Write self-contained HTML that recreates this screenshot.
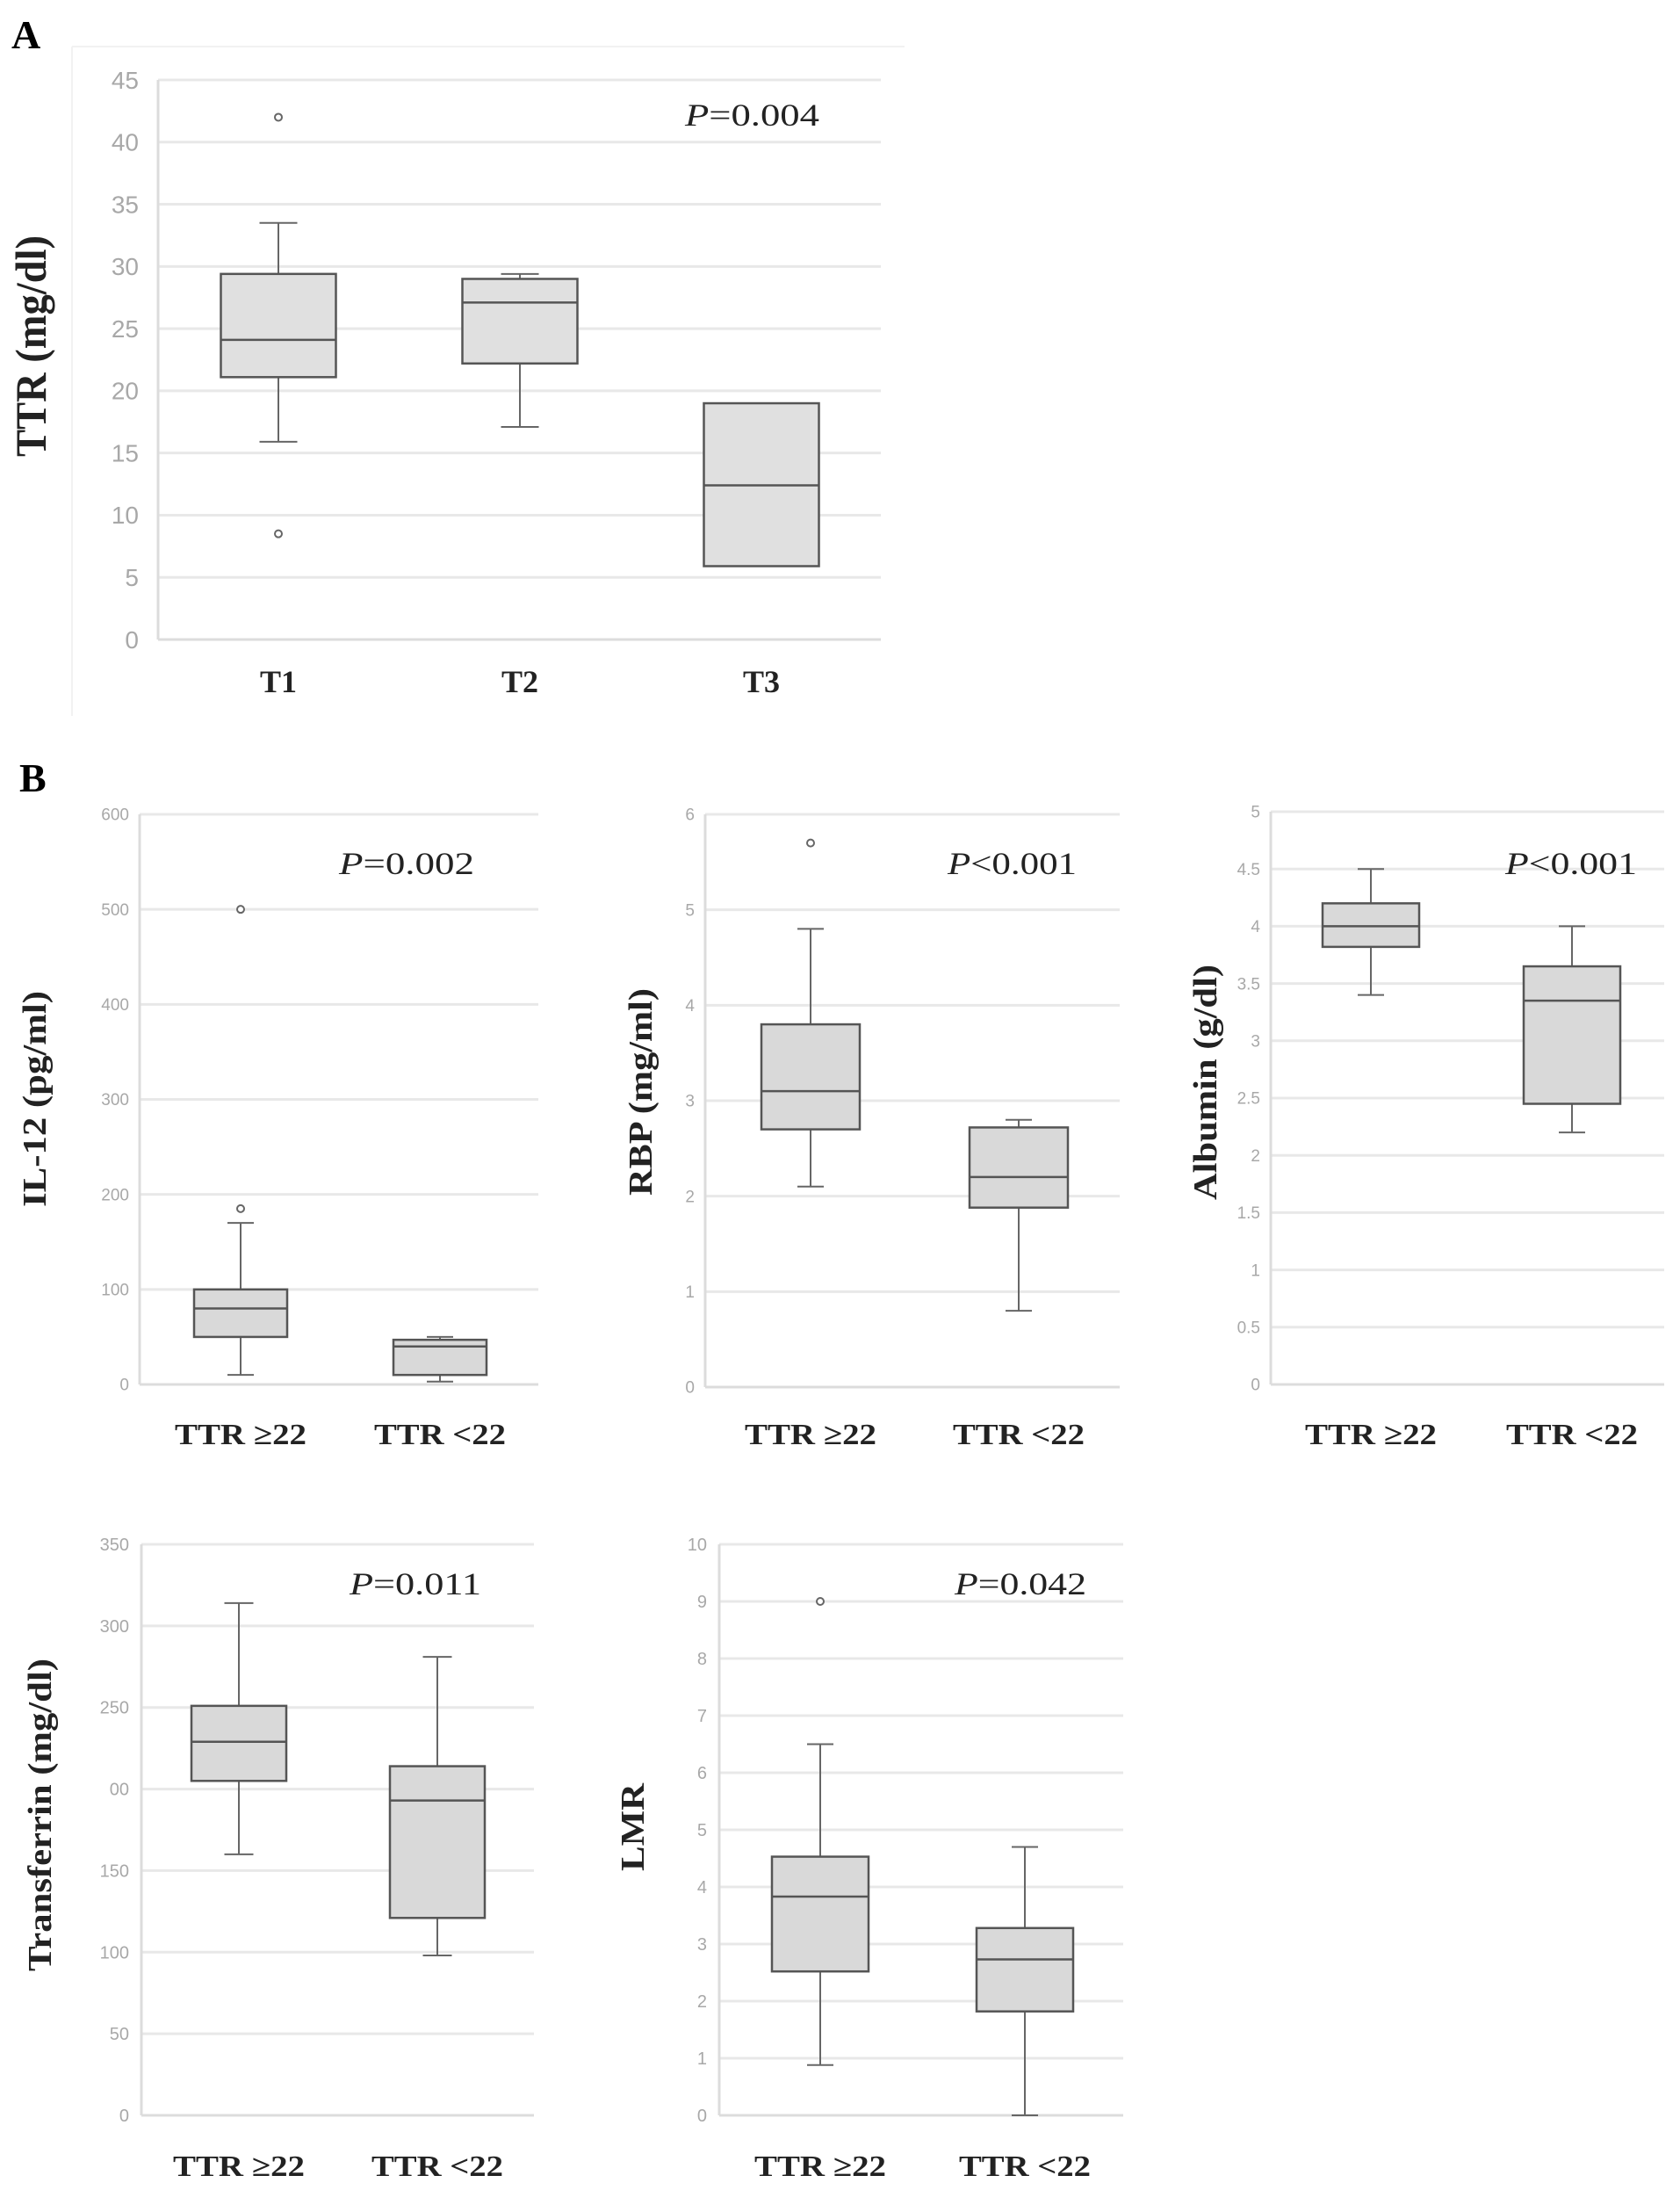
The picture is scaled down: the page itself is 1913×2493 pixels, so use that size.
<!DOCTYPE html>
<html><head><meta charset="utf-8">
<style>
html,body{margin:0;padding:0;background:#fff;}
svg{display:block;}
text{font-family:"Liberation Serif",serif;}
.tick{font-family:"Liberation Sans",sans-serif;fill:#a8a8a8;}
</style></head>
<body>
<svg id="fig" width="1913" height="2493" viewBox="0 0 1913 2493" xmlns="http://www.w3.org/2000/svg">
<text x="13" y="55" font-size="46" font-weight="bold">A</text>
<text x="22" y="901" font-size="46" font-weight="bold">B</text>
<line x1="82" y1="53" x2="1030" y2="53" stroke="#f2f2f2" stroke-width="2"/>
<line x1="82" y1="53" x2="82" y2="815" stroke="#f2f2f2" stroke-width="2"/>
</svg>
<script>
// ---- Panel A: TTR by T stage ----
const aCats = ["T1","T2","T3"];
const aMin = [15.9,17.1,5.9];
const aQ1 = [21.1,22.2,5.9];
const aMed = [24.1,27.1,12.4];
const aQ3 = [29.4,29.0,19.0];
const aMax = [33.5,29.4,19.0];
const aOut = [[42,8.5],[],[]];
const aTicks = [0,5,10,15,20,25,30,35,40,45];
// ---- IL-12 ----
const ilCats = ["TTR \u226522","TTR <22"];
const ilMin = [10,3];
const ilQ1 = [50,10];
const ilMed = [80,40];
const ilQ3 = [100,47];
const ilMax = [170,50];
const ilOut = [[500,185],[]];
const ilTicks = [0,100,200,300,400,500,600];
// ---- RBP ----
const rbpMin = [2.1,0.8];
const rbpQ1 = [2.7,1.88];
const rbpMed = [3.1,2.2];
const rbpQ3 = [3.8,2.72];
const rbpMax = [4.8,2.8];
const rbpOut = [[5.7],[]];
const rbpTicks = [0,1,2,3,4,5,6];
// ---- Albumin ----
const alMin = [3.4,2.2];
const alQ1 = [3.82,2.45];
const alMed = [4.0,3.35];
const alQ3 = [4.2,3.65];
const alMax = [4.5,4.0];
const alOut = [[],[]];
const alTicks = [0,0.5,1,1.5,2,2.5,3,3.5,4,4.5,5];
// ---- Transferrin ----
const trMin = [160,98];
const trQ1 = [205,121];
const trMed = [229,193];
const trQ3 = [251,214];
const trMax = [314,281];
const trOut = [[],[]];
const trTicks = [0,50,100,150,200,250,300,350];
const trTickLabels = ["0","50","100","150","00","250","300","350"];
// ---- LMR ----
const lmMin = [0.88,0];
const lmQ1 = [2.52,1.82];
const lmMed = [3.83,2.73];
const lmQ3 = [4.53,3.28];
const lmMax = [6.5,4.7];
const lmOut = [[9],[]];
const lmTicks = [0,1,2,3,4,5,6,7,8,9,10];

const NS="http://www.w3.org/2000/svg";
const svg=document.getElementById('fig');
function mk(tag,attrs,parent){const e=document.createElementNS(NS,tag);for(const k in attrs)e.setAttribute(k,attrs[k]);(parent||svg).appendChild(e);return e;}

function chart(c){
  const g=mk('g',{});
  
  
  const tmax=c.ticks[c.ticks.length-1];
  const y=v=>c.y0-(v/tmax)*(c.y0-c.yTop);
  const xs=c.centers;
  // gridlines + ticks
  c.ticks.forEach((t,i)=>{
    if(t>0){
      const gl=mk('line',{x1:c.x0,x2:c.x1,y1:y(t),y2:y(t),stroke:'#e8e8e8','stroke-width':3},g);
      
      
    }
    const tl=mk('text',{x:c.x0-c.tickGap,y:y(t)+c.tickFs*0.35,'text-anchor':'end','font-size':c.tickFs,class:'tick'},g);
    tl.textContent=c.tickLabels?c.tickLabels[i]:String(t);
    
    
  });
  const ax=mk('line',{x1:c.x0,x2:c.x0,y1:c.yTop,y2:c.y0,stroke:'#dcdcdc','stroke-width':3},g);
  
  
  const bx=mk('line',{x1:c.x0,x2:c.x1,y1:c.y0,y2:c.y0,stroke:'#dcdcdc','stroke-width':3},g);
  
  
  c.cats.forEach((cat,i)=>{
    const cx=xs[i], hw=c.boxW/2, cw=c.capW/2;
    const wk=mk('path',{d:`M${cx-cw},${y(c.max[i])}H${cx+cw}M${cx},${y(c.max[i])}V${y(c.q3[i])}M${cx},${y(c.q1[i])}V${y(c.min[i])}M${cx-cw},${y(c.min[i])}H${cx+cw}`,stroke:'#666','stroke-width':2,fill:'none'},g);
    
    
    const r=mk('rect',{x:cx-hw,y:y(c.q3[i]),width:c.boxW,height:y(c.q1[i])-y(c.q3[i]),fill:c.fill,stroke:'#555','stroke-width':2.5},g);
    
    
    const md=mk('line',{x1:cx-hw,x2:cx+hw,y1:y(c.med[i]),y2:y(c.med[i]),stroke:'#555','stroke-width':2.5},g);
    
    
    c.out[i].forEach(o=>{
      const ci=mk('circle',{cx:cx,cy:y(o),r:4,fill:'#fff',stroke:'#666','stroke-width':2},g);
      
      
    });
    const xl=mk('text',{x:cx,y:c.xlY,'text-anchor':'middle','font-size':c.xlFs,'font-weight':'bold',fill:'#222'},g);
    if(c.xlLen){xl.setAttribute('textLength',c.xlLen);xl.setAttribute('lengthAdjust','spacingAndGlyphs');}
    xl.textContent=cat;
    
    
  });
  // p value
  const p=mk('text',{x:c.pX,y:c.pY,'font-size':c.pFs,fill:'#222',textLength:c.pLen,lengthAdjust:'spacingAndGlyphs'},g);
  const pi=mk('tspan',{'font-style':'italic'},p);pi.textContent='P';
  const pr=mk('tspan',{},p);pr.textContent=c.pText;
  
  
  // y title
  const tt=mk('text',{x:0,y:0,'text-anchor':'middle','font-size':c.titleFs,'font-weight':'bold',fill:'#222',textLength:c.titleLen,lengthAdjust:'spacingAndGlyphs',transform:`translate(${c.titleX},${c.titleY}) rotate(-90)`},g);
  tt.textContent=c.title;
  
  
}

chart({name:'ttr',cats:aCats,min:aMin,q1:aQ1,med:aMed,q3:aQ3,max:aMax,out:aOut,ticks:aTicks,
  x0:180,x1:1003,yTop:91,y0:728,centers:[317,592,867],boxW:131,capW:43,fill:'#e0e0e0',
  tickFs:28,tickGap:22,xlY:788,xlFs:36,pX:780,pY:143,pFs:36,pLen:153,pText:'=0.004',
  title:'TTR (mg/dl)',titleX:52,titleY:394,titleFs:50,titleLen:252});
chart({name:'il12',cats:ilCats,min:ilMin,q1:ilQ1,med:ilMed,q3:ilQ3,max:ilMax,out:ilOut,ticks:ilTicks,
  x0:159,x1:613,yTop:927,y0:1576,centers:[274,501],boxW:106,capW:30,fill:'#d9d9d9',
  tickFs:19,tickGap:12,xlY:1644,xlFs:34,xlLen:150,pX:386,pY:995,pFs:36,pLen:154,pText:'=0.002',
  title:'IL-12 (pg/ml)',titleX:52,titleY:1251,titleFs:38,titleLen:246});
chart({name:'rbp',cats:ilCats,min:rbpMin,q1:rbpQ1,med:rbpMed,q3:rbpQ3,max:rbpMax,out:rbpOut,ticks:rbpTicks,
  x0:803,x1:1275,yTop:927,y0:1579,centers:[923,1160],boxW:112,capW:30,fill:'#d9d9d9',
  tickFs:19,tickGap:12,xlY:1644,xlFs:34,xlLen:150,pX:1079,pY:995,pFs:36,pLen:147,pText:'<0.001',
  title:'RBP (mg/ml)',titleX:742,titleY:1243,titleFs:38,titleLen:236});
chart({name:'albumin',cats:ilCats,min:alMin,q1:alQ1,med:alMed,q3:alQ3,max:alMax,out:alOut,ticks:alTicks,
  x0:1447,x1:1895,yTop:924,y0:1576,centers:[1561,1790],boxW:110,capW:30,fill:'#d9d9d9',
  tickFs:19,tickGap:12,xlY:1644,xlFs:34,xlLen:150,pX:1714,pY:995,pFs:36,pLen:150,pText:'<0.001',
  title:'Albumin (g/dl)',titleX:1385,titleY:1232,titleFs:38,titleLen:268});
chart({name:'transferrin',cats:ilCats,min:trMin,q1:trQ1,med:trMed,q3:trQ3,max:trMax,out:trOut,ticks:trTicks,tickLabels:trTickLabels,
  x0:161,x1:608,yTop:1758,y0:2408,centers:[272,498],boxW:108,capW:33,fill:'#d9d9d9',
  tickFs:20,tickGap:14,xlY:2477,xlFs:34,xlLen:150,pX:398,pY:1815,pFs:36,pLen:150,pText:'=0.011',
  title:'Transferrin (mg/dl)',titleX:58,titleY:2066,titleFs:38,titleLen:356});
chart({name:'lmr',cats:ilCats,min:lmMin,q1:lmQ1,med:lmMed,q3:lmQ3,max:lmMax,out:lmOut,ticks:lmTicks,
  x0:819,x1:1279,yTop:1758,y0:2408,centers:[934,1167],boxW:110,capW:30,fill:'#d9d9d9',
  tickFs:20,tickGap:14,xlY:2477,xlFs:34,xlLen:150,pX:1087,pY:1815,pFs:36,pLen:150,pText:'=0.042',
  title:'LMR',titleX:733,titleY:2080,titleFs:38,titleLen:100});
</script>
</body></html>
